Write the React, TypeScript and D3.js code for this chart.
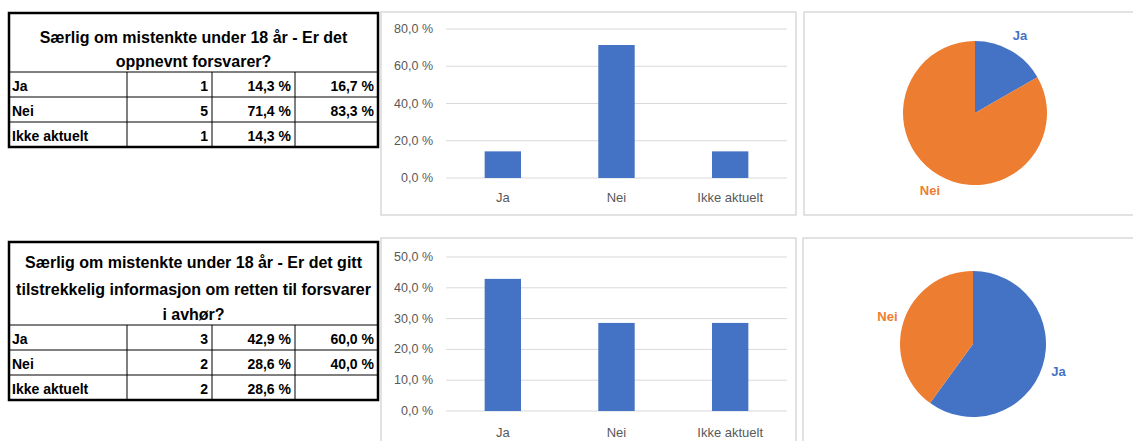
import React from "react";
import * as d3 from "d3";

const categories = ["Ja", "Nei", "Ikke aktuelt"];
const pieCategories = ["Ja", "Nei"];

const title1 = ["Særlig om mistenkte under 18 år - Er det", "oppnevnt forsvarer?"];
const counts1 = [1, 5, 1];
const share1 = [0.143, 0.714, 0.143];
const pieShare1 = [0.167, 0.833];
const yTicks1 = [0, 0.2, 0.4, 0.6, 0.8];

const title2 = [
  "Særlig om mistenkte under 18 år - Er det gitt",
  "tilstrekkelig informasjon om retten til forsvarer",
  "i avhør?",
];
const counts2 = [3, 2, 2];
const share2 = [0.429, 0.286, 0.286];
const pieShare2 = [0.6, 0.4];
const yTicks2 = [0, 0.1, 0.2, 0.3, 0.4, 0.5];

const BLUE = "#4472C4";
const ORANGE = "#ED7D31";
const FONT = "'Liberation Sans', Arial, sans-serif";

const pct = (v: number) => (v * 100).toFixed(1).replace(".", ",") + " %";

function Table({ top, titleBottom, titleLines, lineY, counts, shares, pieShares, titleSize }: any) {
  const cols = [9, 127, 212, 295, 378];
  const rowH = 25;
  const bottom = titleBottom + rowH * 3;
  const els: any[] = [];
  titleLines.forEach((t: string, i: number) => {
    els.push(
      <text key={"t" + i} x={(cols[0] + cols[4]) / 2} y={lineY[i]} textAnchor="middle"
        dominantBaseline="central" fontSize={titleSize} fontWeight="bold" fontFamily={FONT}>{t}</text>
    );
  });
  categories.forEach((c, i) => {
    const y0 = titleBottom + i * rowH;
    const cy = y0 + rowH / 2 + 1;
    els.push(<line key={"h" + i} x1={cols[0]} x2={cols[4]} y1={y0} y2={y0} stroke="#000" strokeWidth={1} />);
    els.push(<text key={"c" + i} x={cols[0] + 3} y={cy} dominantBaseline="central" fontSize={14} fontWeight="bold" fontFamily={FONT}>{c}</text>);
    els.push(<text key={"n" + i} x={cols[2] - 4} y={cy} textAnchor="end" dominantBaseline="central" fontSize={14} fontWeight="bold" fontFamily={FONT}>{counts[i]}</text>);
    els.push(<text key={"p" + i} x={cols[3] - 4} y={cy} textAnchor="end" dominantBaseline="central" fontSize={14} fontWeight="bold" fontFamily={FONT}>{pct(shares[i])}</text>);
    if (i < pieShares.length)
      els.push(<text key={"q" + i} x={cols[4] - 4} y={cy} textAnchor="end" dominantBaseline="central" fontSize={14} fontWeight="bold" fontFamily={FONT}>{pct(pieShares[i])}</text>);
  });
  [1, 2, 3].forEach((k) =>
    els.push(<line key={"v" + k} x1={cols[k]} x2={cols[k]} y1={titleBottom} y2={bottom} stroke="#000" strokeWidth={1} />)
  );
  els.push(<rect key="outer" x={cols[0]} y={top} width={cols[4] - cols[0]} height={bottom - top} fill="none" stroke="#000" strokeWidth={2.5} />);
  return <g>{els}</g>;
}

function BarChart({ panel, y0, yMax, ticks, values, labelY }: any) {
  const x = d3.scaleBand<string>().domain(categories).range([446, 787]).paddingInner(0.68).paddingOuter(0.34);
  const y = d3.scaleLinear().domain([0, yMax]).range([y0.bottom, y0.top]);
  return (
    <g>
      <rect x={panel.x} y={panel.y} width={panel.w} height={panel.h} fill="#fff" stroke="#D9D9D9" strokeWidth={1.5} />
      {ticks.map((t: number) => (
        <g key={t}>
          <line x1={446} x2={787} y1={y(t)} y2={y(t)} stroke="#D9D9D9" strokeWidth={1} />
          <text x={433} y={y(t)} textAnchor="end" dominantBaseline="central" fontSize={12.5} fill="#595959" fontFamily={FONT}>{pct(t)}</text>
        </g>
      ))}
      {categories.map((c, i) => (
        <rect key={c} x={x(c)} y={y(values[i])} width={x.bandwidth()} height={y(0) - y(values[i])} fill={BLUE} />
      ))}
      {categories.map((c) => (
        <text key={"l" + c} x={(x(c) as number) + x.bandwidth() / 2} y={labelY} textAnchor="middle"
          dominantBaseline="central" fontSize={13} fill="#595959" fontFamily={FONT}>{c}</text>
      ))}
    </g>
  );
}

function PieChart({ panel, cx, cy, r, values }: any) {
  const pie = d3.pie<number>().sort(null).value((d) => d);
  const arcs = pie(values);
  const arc = d3.arc<any>().innerRadius(0).outerRadius(r);
  const labelArc = d3.arc<any>().innerRadius(90).outerRadius(90);
  const colors = [BLUE, ORANGE];
  return (
    <g>
      <rect x={panel.x} y={panel.y} width={panel.w} height={panel.h} fill="#fff" stroke="#D9D9D9" strokeWidth={1.5} />
      <g transform={`translate(${cx},${cy})`}>
        {arcs.map((a, i) => (
          <path key={i} d={arc(a) as string} fill={colors[i]} />
        ))}
        {arcs.map((a, i) => {
          const [lx, ly] = labelArc.centroid(a);
          return (
            <text key={"l" + i} x={lx} y={ly} textAnchor="middle" dominantBaseline="central"
              fontSize={13} fontWeight="bold" fill={colors[i]} fontFamily={FONT}>{pieCategories[i]}</text>
          );
        })}
      </g>
    </g>
  );
}

export default function App() {
  return (
    <svg width={1133} height={441} style={{ position: "absolute", left: 0, top: 0, background: "#fff" }}>
      <rect x={0} y={0} width={1133} height={441} fill="#fff" />
      <Table top={13} titleBottom={72} titleLines={title1} lineY={[37, 61]} counts={counts1} shares={share1} pieShares={pieShare1} titleSize={16} />
      <Table top={242} titleBottom={325} titleLines={title2} lineY={[262, 289, 314]} counts={counts2} shares={share2} pieShares={pieShare2} titleSize={16} />
      <BarChart panel={{ x: 381, y: 12, w: 415, h: 203 }} y0={{ top: 29, bottom: 178 }} yMax={0.8} ticks={yTicks1} values={share1} labelY={197} />
      <BarChart panel={{ x: 381, y: 238, w: 415, h: 210 }} y0={{ top: 257, bottom: 411 }} yMax={0.5} ticks={yTicks2} values={share2} labelY={432} />
      <PieChart panel={{ x: 804, y: 12, w: 340, h: 203 }} cx={975} cy={113} r={72} values={pieShare1} />
      <PieChart panel={{ x: 803, y: 238, w: 340, h: 210 }} cx={973} cy={344} r={73} values={pieShare2} />
    </svg>
  );
}
